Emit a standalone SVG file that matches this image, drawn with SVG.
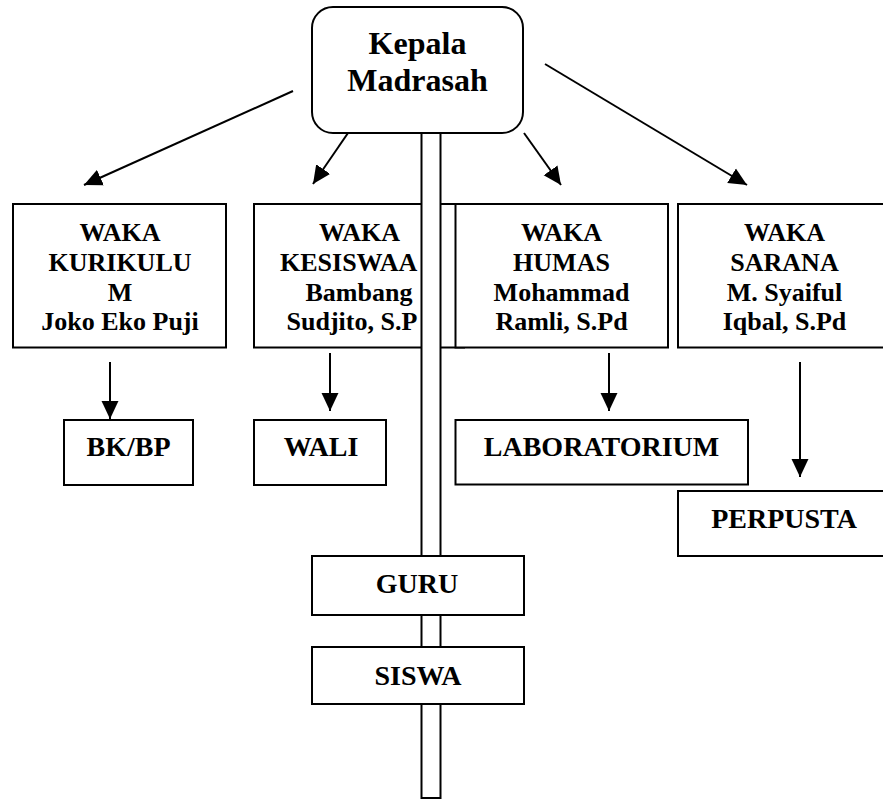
<svg xmlns="http://www.w3.org/2000/svg" width="883" height="799" viewBox="0 0 883 799">
<defs>
<style>
.box{fill:#fff;stroke:#000;stroke-width:2}
.t{font-family:"Liberation Serif","Times New Roman",serif;font-weight:bold;fill:#000}
.w{font-size:26px;text-anchor:middle}
.ws{font-size:26px;text-anchor:start}
.b{font-size:28px;text-anchor:middle}
.k{font-size:32px;text-anchor:middle}
.c{stroke:#000;stroke-width:2;fill:none;marker-end:url(#ah)}
</style>
<marker id="ah" markerUnits="userSpaceOnUse" markerWidth="18" markerHeight="18" viewBox="0 0 17 16" refX="17" refY="8" orient="auto">
<path d="M0,0 L17,8 L0,16 z" fill="#000"/>
</marker>
</defs>
<rect width="883" height="799" fill="#fff"/>

<g id="waka-kurikulum">
<rect class="box" x="13" y="204" width="213" height="143.5"/>
<text class="t w" x="120" y="241">WAKA</text>
<text class="t w" x="120" y="270.5">KURIKULU</text>
<text class="t w" x="120" y="300.5">M</text>
<text class="t w" x="120" y="330">Joko Eko Puji</text>
</g>
<g id="waka-kesiswaan">
<rect class="box" x="254" y="204" width="210" height="143.5"/>
<text class="t w" x="359.5" y="241">WAKA</text>
<text class="t ws" x="280" y="270.5">KESISWAA</text>
<text class="t w" x="359" y="300.5">Bambang</text>
<text class="t ws" x="286.5" y="330">Sudjito, S.P</text>
</g>
<g id="waka-humas">
<rect class="box" x="455.5" y="204" width="212.5" height="143.5"/>
<text class="t w" x="561.5" y="241">WAKA</text>
<text class="t w" x="561.5" y="270.5">HUMAS</text>
<text class="t w" x="561.5" y="300.5">Mohammad</text>
<text class="t w" x="561.5" y="330">Ramli, S.Pd</text>
</g>
<g id="waka-sarana">
<rect class="box" x="678" y="204" width="213" height="143.5"/>
<text class="t w" x="784.5" y="241">WAKA</text>
<text class="t w" x="784.5" y="270.5">SARANA</text>
<text class="t w" x="784.5" y="300.5">M. Syaiful</text>
<text class="t w" x="784.5" y="330">Iqbal, S.Pd</text>
</g>

<g id="connectors">
<rect class="box" x="421.5" y="125" width="19" height="673"/>
<line class="c" x1="293" y1="91" x2="84" y2="185"/>
<line class="c" x1="348" y1="133" x2="313" y2="184"/>
<line class="c" x1="524" y1="133" x2="561" y2="185"/>
<line class="c" x1="545" y1="64" x2="747" y2="185"/>
<line class="c" x1="110" y1="362" x2="110" y2="419"/>
<line class="c" x1="330" y1="353" x2="330" y2="411"/>
<line class="c" x1="609" y1="353" x2="609" y2="411"/>
<line class="c" x1="800" y1="362" x2="800" y2="477"/>
</g>

<g id="kepala-madrasah">
<rect class="box" x="312" y="7" width="211" height="126" rx="21" ry="21"/>
<text class="t k" x="417.5" y="54">Kepala</text>
<text class="t k" x="417.5" y="91">Madrasah</text>
</g>

<g id="bkbp">
<rect class="box" x="64" y="420" width="129" height="65"/>
<text class="t b" x="128.5" y="456">BK/BP</text>
</g>
<g id="wali">
<rect class="box" x="254" y="420" width="132" height="65"/>
<text class="t b" x="321" y="456">WALI</text>
</g>
<g id="laboratorium">
<rect class="box" x="455.5" y="420" width="292.5" height="64.5"/>
<text class="t b" x="601.5" y="456">LABORATORIUM</text>
</g>
<g id="perpusta">
<rect class="box" x="678" y="491" width="213" height="65"/>
<text class="t b" x="784" y="528">PERPUSTA</text>
</g>
<g id="guru">
<rect class="box" x="312" y="556" width="212" height="59"/>
<text class="t b" x="417" y="593">GURU</text>
</g>
<g id="siswa">
<rect class="box" x="312" y="647" width="212" height="57"/>
<text class="t b" x="418" y="685">SISWA</text>
</g>
</svg>
